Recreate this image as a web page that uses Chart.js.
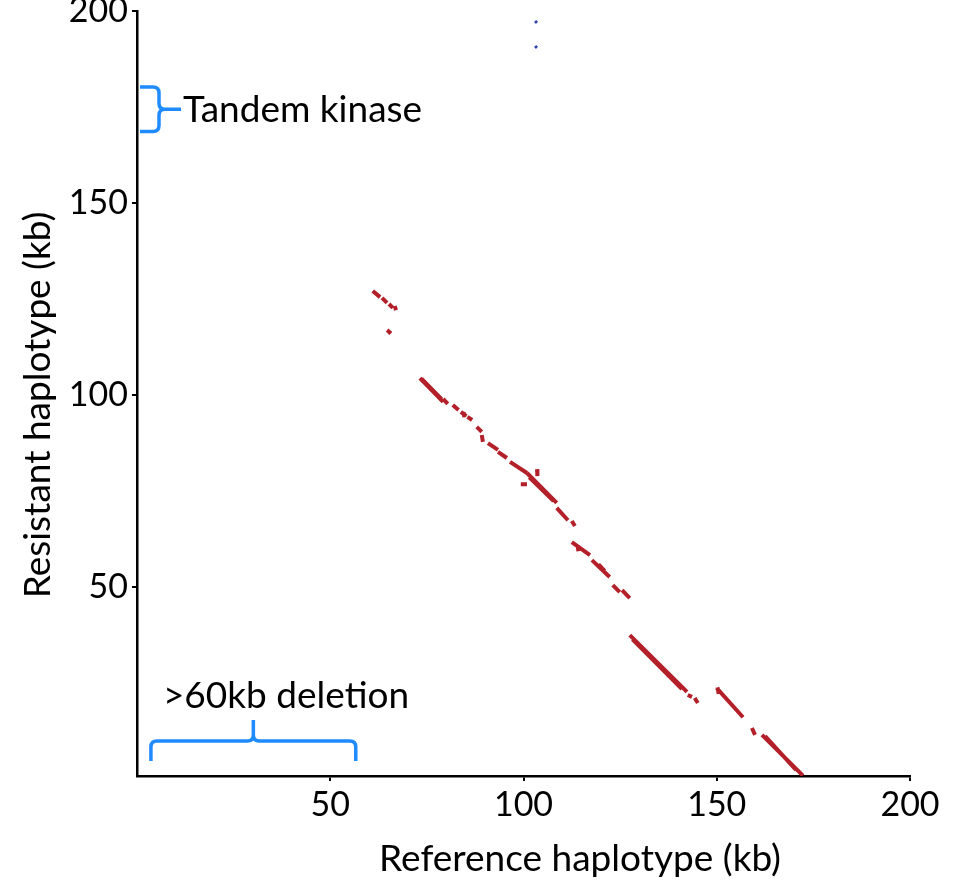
<!DOCTYPE html>
<html>
<head>
<meta charset="utf-8">
<script src="https://cdn.jsdelivr.net/npm/chart.js@4"></script>
<style>
  html, body { margin: 0; padding: 0; background: #fff; }
  #wrap { width: 961px; height: 887px; }
</style>
</head>
<body>
<div id="wrap"><canvas id="dotplot" width="961" height="887"></canvas></div>
<script>
// Dot plot: reference haplotype (x, kb) vs resistant haplotype (y, kb)
const xTicks = [50, 100, 150, 200];
const yTicks = [50, 100, 150, 200];

// reverse-strand hits, [refStart, resStart, refEnd, resEnd] in kb
const reverseHits = [
  [61.0, 127.1, 62.9, 125.5], [63.4, 125.3, 64.7, 124.0], [65.2, 123.7, 66.2, 122.7],
  [66.7, 123.2, 67.0, 122.1], [64.7, 116.9, 65.7, 116.1], [64.9, 116.0, 65.6, 116.6],
  [73.2, 104.4, 79.2, 98.2], [73.6, 104.3, 78.8, 98.9], [79.2, 99.0, 80.4, 97.7],
  [81.7, 97.4, 83.2, 96.1], [83.8, 95.6, 85.2, 94.5], [85.5, 94.3, 86.7, 93.5],
  [84.5, 95.6, 84.7, 94.2], [87.9, 91.7, 89.2, 90.4], [89.2, 89.6, 89.5, 87.8],
  [90.8, 87.5, 93.4, 85.7], [93.4, 85.2, 95.7, 83.6], [96.5, 82.6, 100.9, 79.7],
  [100.9, 79.7, 108.6, 71.9], [101.5, 78.6, 107.8, 72.4], [103.5, 80.7, 103.6, 78.9],
  [99.3, 76.8, 100.9, 76.8], [108.6, 70.6, 111.5, 67.4], [112.5, 67.2, 113.3, 65.9],
  [112.5, 61.7, 117.2, 58.3], [114.0, 60.9, 114.2, 59.3], [117.7, 57.0, 122.3, 52.6],
  [119.4, 55.9, 121.0, 54.2], [123.1, 50.5, 124.9, 48.7], [125.5, 49.2, 127.5, 47.1],
  [127.5, 37.5, 142.3, 22.7], [128.2, 36.4, 141.0, 23.4], [142.5, 21.9, 143.6, 21.4],
  [144.3, 21.1, 145.1, 19.8], [150.0, 23.7, 156.8, 16.1], [150.2, 23.9, 150.5, 22.2],
  [159.1, 13.3, 159.9, 11.5], [161.7, 11.5, 172.3, 0.9], [162.5, 11.2, 170.5, 2.4]
];

// forward-strand hits (two tiny specks near the top)
const forwardHits = [
  [103.0, 197.4, 103.5, 196.9], [103.0, 190.9, 103.5, 190.4]
];

const kinaseSpan = [168.6, 180.2];   // kb on resistant haplotype
const deletionSpan = [3.6, 56.6];    // kb on reference haplotype

const FONT = 'Lato, "Open Sans", sans-serif';
const BRACE = '#1f8bff';

function toLine(hits) {
  const pts = [];
  hits.forEach(h => {
    pts.push({ x: h[0], y: h[1] }, { x: h[2], y: h[3] }, { x: h[2], y: null });
  });
  return pts;
}

const annotations = {
  id: 'annotations',
  afterDraw(chart) {
    const { ctx, scales: { x, y }, chartArea } = chart;
    ctx.save();
    ctx.strokeStyle = BRACE;
    ctx.lineWidth = 3.5;
    ctx.lineCap = 'butt';
    ctx.lineJoin = 'round';

    // vertical brace for the tandem kinase
    const top = y.getPixelForValue(kinaseSpan[1]);
    const bot = y.getPixelForValue(kinaseSpan[0]);
    const mid = (top + bot) / 2;
    const bx = chartArea.left + 3, vx = bx + 19, r = 6;
    ctx.beginPath();
    ctx.moveTo(bx, top);
    ctx.lineTo(vx - r, top);
    ctx.quadraticCurveTo(vx, top, vx, top + r);
    ctx.lineTo(vx, mid - r);
    ctx.quadraticCurveTo(vx, mid, vx + r, mid);
    ctx.lineTo(vx + 22, mid);
    ctx.moveTo(vx + r, mid);
    ctx.quadraticCurveTo(vx, mid, vx, mid + r);
    ctx.lineTo(vx, bot - r);
    ctx.quadraticCurveTo(vx, bot, vx - r, bot);
    ctx.lineTo(bx, bot);
    ctx.stroke();

    // horizontal brace for the deletion
    const l = x.getPixelForValue(deletionSpan[0]);
    const rr = x.getPixelForValue(deletionSpan[1]);
    const cx = (l + rr) / 2;
    const yb = chartArea.bottom - 15, hy = yb - 20, tip = hy - 21;
    ctx.beginPath();
    ctx.moveTo(l, yb);
    ctx.lineTo(l, hy + r);
    ctx.quadraticCurveTo(l, hy, l + r, hy);
    ctx.lineTo(cx - r, hy);
    ctx.quadraticCurveTo(cx, hy, cx, hy - r);
    ctx.lineTo(cx, tip);
    ctx.moveTo(cx, hy - r);
    ctx.quadraticCurveTo(cx, hy, cx + r, hy);
    ctx.lineTo(rr - r, hy);
    ctx.quadraticCurveTo(rr, hy, rr, hy + r);
    ctx.lineTo(rr, yb);
    ctx.stroke();

    ctx.fillStyle = '#000';
    ctx.font = '37px ' + FONT;
    ctx.textBaseline = 'middle';
    ctx.textAlign = 'left';
    ctx.fillText('Tandem kinase', vx + 24, mid + 1);
    ctx.fillText('>60kb deletion', l + 12, tip - 24);

    // axis titles
    ctx.font = '37px ' + FONT;
    ctx.textAlign = 'center';
    ctx.fillText('Reference haplotype (kb)', 580, 859);
    ctx.save();
    ctx.translate(38, 405);
    ctx.rotate(-Math.PI / 2);
    ctx.fillText('Resistant haplotype (kb)', 0, 0);
    ctx.restore();
    ctx.restore();
  }
};

const axisBase = {
  type: 'linear',
  grid: { display: true, drawOnChartArea: false, drawTicks: true, tickLength: 5, color: '#000', lineWidth: 2 },
  border: { display: true, color: '#000', width: 2.5 },
  ticks: { color: '#000', font: { family: FONT, size: 34 }, maxRotation: 0, autoSkip: false }
};

new Chart(document.getElementById('dotplot'), {
  type: 'line',
  data: {
    datasets: [
      {
        data: toLine(reverseHits),
        borderColor: '#b3202a',
        borderWidth: 4,
        pointRadius: 0,
        spanGaps: false,
        tension: 0
      },
      {
        data: toLine(forwardHits),
        borderColor: '#3347b0',
        borderWidth: 3,
        pointRadius: 0,
        spanGaps: false,
        tension: 0
      }
    ]
  },
  options: {
    responsive: false,
    animation: false,
    layout: { padding: { top: 11, right: 51, left: 0, bottom: 0 } },
    plugins: { legend: { display: false }, tooltip: { enabled: false } },
    scales: {
      x: {
        ...axisBase,
        min: 0, max: 200,
        ticks: { ...axisBase.ticks, padding: 4 },
        afterBuildTicks: s => { s.ticks = xTicks.map(v => ({ value: v })); },
        afterFit: s => { s.height = 111; s.paddingLeft = 0; s.paddingRight = 0; }
      },
      y: {
        ...axisBase,
        min: 0.8, max: 200,
        ticks: { ...axisBase.ticks, padding: 4 },
        afterBuildTicks: s => { s.ticks = yTicks.map(v => ({ value: v })); },
        afterFit: s => { s.width = 137; s.paddingTop = 0; s.paddingBottom = 0; }
      }
    }
  },
  plugins: [annotations]
});
</script>
</body>
</html>
